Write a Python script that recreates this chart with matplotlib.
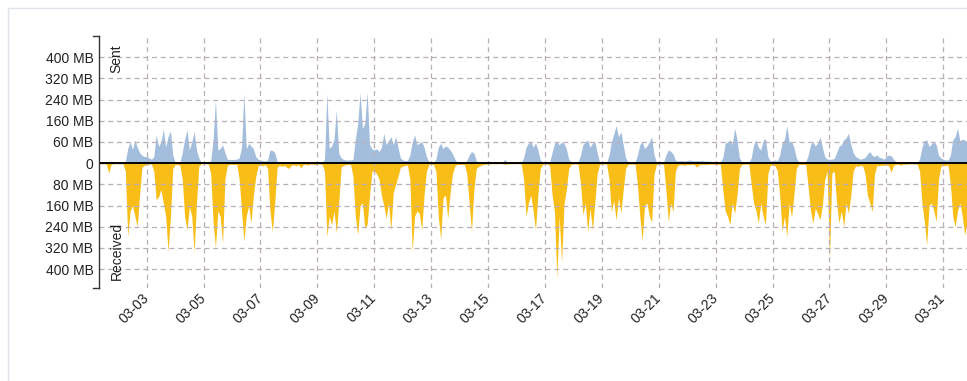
import pandas as pd
import matplotlib
matplotlib.use('Agg')
import matplotlib.pyplot as plt
import matplotlib.dates as mdates
from matplotlib.lines import Line2D
from matplotlib.patches import Rectangle

plt.rcParams['font.family'] = ['Liberation Sans', 'DejaVu Sans']
plt.rcParams['font.size'] = 10

# traffic per 2-hour bucket (MB), one row per day starting 03-01 00:00
sent_mb = [
    [1, 1, 1, 1, 2, 2, 2, 2, 3, 8, 3, 2],               # 03-01
    [2, 2, 3, 8, 55, 82, 52, 88, 60, 40, 30, 25],
    [25, 20, 15, 25, 107, 63, 80, 128, 62, 100, 122, 31],
    [3, 2, 3, 40, 90, 126, 50, 80, 119, 50, 20, 3],
    [3, 2, 3, 10, 88, 239, 50, 55, 69, 40, 15, 14],
    [14, 14, 15, 20, 60, 264, 54, 75, 65, 55, 25, 15],
    [12, 10, 8, 12, 50, 48, 40, 8, 4, 3, 2, 2],
    [3, 3, 2, 2, 2, 2, 2, 2, 2, 2, 2, 2],
    [2, 2, 3, 15, 264, 57, 65, 90, 200, 38, 20, 14],
    [12, 12, 12, 15, 90, 150, 266, 130, 150, 268, 70, 54],
    [50, 54, 44, 60, 113, 70, 85, 100, 70, 100, 60, 20],  # 03-11
    [12, 10, 10, 30, 80, 107, 70, 75, 82, 60, 25, 5],
    [3, 3, 15, 60, 75, 55, 65, 60, 50, 35, 15, 3],
    [3, 3, 3, 10, 30, 44, 38, 10, 3, 2, 2, 2],
    [2, 2, 2, 2, 2, 2, 2, 15, 3, 2, 2, 2],
    [2, 2, 3, 20, 60, 75, 82, 60, 77, 50, 12, 5],
    [3, 3, 5, 40, 75, 82, 70, 80, 75, 55, 15, 5],
    [3, 3, 5, 30, 70, 80, 88, 60, 75, 82, 40, 5],
    [3, 3, 3, 30, 80, 110, 142, 100, 119, 70, 20, 5],
    [4, 4, 4, 30, 70, 82, 55, 65, 80, 100, 30, 5],
    [3, 3, 4, 30, 50, 45, 35, 12, 8, 10, 9, 8],           # 03-21
    [10, 12, 10, 9, 10, 9, 10, 8, 8, 8, 7, 6],
    [5, 5, 5, 20, 75, 80, 88, 70, 132, 90, 20, 5],
    [4, 4, 4, 20, 70, 88, 60, 50, 85, 94, 25, 8],
    [10, 12, 10, 30, 75, 90, 142, 80, 82, 60, 20, 5],
    [5, 5, 5, 30, 70, 82, 65, 75, 100, 60, 25, 15],
    [15, 15, 18, 40, 63, 70, 88, 95, 113, 70, 40, 25],
    [20, 15, 18, 22, 35, 44, 30, 25, 31, 22, 20, 15],
    [25, 31, 28, 15, 6, 5, 4, 4, 3, 3, 3, 3],
    [3, 3, 15, 60, 85, 88, 63, 72, 82, 70, 30, 20],
    [15, 12, 12, 30, 88, 100, 132, 85, 90, 88, 80, 70],   # 03-31
]
received_mb = [
    [1, 1, 1, 1, 2, 3, 2, 4, 37, 4, 3, 2],              # 03-01
    [2, 2, 3, 30, 277, 180, 160, 200, 239, 120, 15, 8],
    [6, 4, 3, 30, 138, 127, 100, 150, 200, 333, 206, 20],
    [5, 6, 8, 60, 201, 252, 164, 200, 337, 150, 10, 3],
    [3, 2, 3, 40, 220, 318, 180, 200, 302, 60, 8, 5],
    [5, 5, 5, 60, 180, 295, 200, 160, 226, 120, 50, 10],
    [8, 10, 5, 20, 180, 258, 150, 15, 8, 12, 8, 15],
    [20, 8, 6, 10, 5, 18, 6, 4, 8, 3, 4, 6],
    [3, 3, 5, 30, 277, 200, 233, 180, 264, 150, 15, 8],
    [6, 5, 5, 50, 200, 270, 160, 150, 245, 230, 120, 30],
    [30, 40, 60, 120, 160, 208, 150, 252, 110, 80, 50, 15],  # 03-11
    [12, 8, 8, 60, 333, 200, 180, 190, 252, 120, 30, 5],
    [5, 5, 30, 200, 289, 130, 120, 208, 110, 40, 10, 5],
    [5, 5, 5, 40, 150, 258, 100, 20, 12, 8, 5, 4],
    [3, 3, 2, 2, 2, 2, 2, 4, 3, 2, 2, 2],
    [2, 2, 3, 60, 201, 150, 120, 180, 252, 120, 20, 5],
    [3, 3, 10, 120, 183, 434, 200, 376, 157, 100, 20, 5],
    [3, 3, 5, 80, 195, 150, 258, 170, 252, 150, 40, 5],
    [3, 3, 3, 60, 183, 140, 215, 130, 189, 100, 20, 5],
    [4, 4, 4, 80, 200, 293, 160, 150, 200, 223, 40, 5],
    [3, 3, 4, 100, 220, 150, 183, 30, 8, 6, 6, 8],          # 03-21
    [5, 6, 5, 6, 15, 6, 5, 5, 5, 4, 4, 4],
    [5, 5, 5, 100, 180, 200, 233, 150, 190, 120, 20, 5],
    [4, 4, 4, 80, 150, 180, 226, 150, 200, 233, 40, 8],
    [8, 10, 28, 120, 258, 200, 277, 150, 205, 120, 20, 5],
    [5, 5, 5, 90, 180, 226, 170, 190, 214, 160, 60, 30],
    [365, 37, 30, 150, 226, 180, 239, 150, 189, 120, 30, 10],
    [12, 8, 10, 40, 120, 150, 183, 40, 8, 10, 8, 8],
    [6, 10, 34, 8, 5, 4, 8, 4, 4, 3, 3, 3],
    [3, 3, 30, 150, 220, 308, 160, 150, 180, 220, 60, 10],
    [10, 8, 8, 80, 200, 240, 180, 150, 200, 270, 230, 200],  # 03-31
]

y_ticks = [-400, -320, -240, -160, -80, 0, 80, 160, 240, 320, 400]
y_tick_labels = ['400 MB', '320 MB', '240 MB', '160 MB', '80 MB', '0',
                 '60 MB', '160 MB', '240 MB', '320 MB', '400 MB']

sent_color = '#a3bddc'
recv_color = '#f9bd17'
grid_color = '#b8afb8'
text_color = '#222222'

sent = [v for day in sent_mb for v in day]
received = [-v for day in received_mb for v in day]
start = pd.Timestamp('2025-03-01')
times = pd.date_range(start, periods=len(sent), freq='2h')

W, H = 967, 381
fig = plt.figure(figsize=(W / 100, H / 100), dpi=100, facecolor='white')

# outer panel frame
fig.add_artist(Rectangle((7.5 / W, -0.05), 1.2, 1 - 7.5 / H + 0.05, transform=fig.transFigure,
                         fill=False, edgecolor='#dfe4ea', linewidth=1.0))

ax_left, ax_top, ax_bottom = 99, 36, 287.7
ax = fig.add_axes([ax_left / W, 1 - ax_bottom / H, 1 - ax_left / W, (ax_bottom - ax_top) / H])

ax.fill_between(times, 0, sent, color=sent_color, linewidth=0, zorder=2)
ax.fill_between(times, 0, received, color=recv_color, linewidth=0, zorder=2)
ax.axhline(0, color='black', linewidth=1.4, zorder=4)

ax.set_ylim(-470, 480)
ax.set_xlim(start + pd.Timedelta(days=0.3234), start + pd.Timedelta(days=30.834))

ax.set_yticks(y_ticks)
ax.set_yticklabels(y_tick_labels)
ax.xaxis.set_major_locator(mdates.DayLocator(bymonthday=range(3, 32, 2)))
ax.xaxis.set_major_formatter(mdates.DateFormatter('%m-%d'))
ax.tick_params(axis='y', length=0, pad=4, labelcolor=text_color, labelsize=10)
ax.tick_params(axis='x', length=0, pad=6, labelcolor=text_color, labelsize=10)
for lbl in ax.get_xticklabels():
    lbl.set_rotation(45)
    lbl.set_ha('right')
    lbl.set_va('center')
    lbl.set_rotation_mode('anchor')

ax.grid(True, color=grid_color, linestyle=(0, (4, 3)), linewidth=0.9, zorder=3)
ax.set_axisbelow(False)

for side in ['top', 'right', 'bottom']:
    ax.spines[side].set_visible(False)
ax.spines['left'].set_color('#333333')
ax.spines['left'].set_linewidth(1.0)
ax.spines['left'].set_zorder(5)

# end caps on the value axis
cap = 6 / W
for yy in (1 - ax_top / H, 1 - ax_bottom / H):
    fig.add_artist(Line2D([ax_left / W - cap, ax_left / W], [yy, yy], transform=fig.transFigure,
                          color='#333333', linewidth=1.0))

ax.text(0.012, 0.968, 'Sent', transform=ax.transAxes, rotation=90, ha='left', va='top',
        fontsize=10, color=text_color, zorder=6)
ax.text(0.012, 0.03, 'Received', transform=ax.transAxes, rotation=90, ha='left', va='bottom',
        fontsize=10, color=text_color, zorder=6)

fig.savefig('out.png', dpi=100, facecolor='white')
